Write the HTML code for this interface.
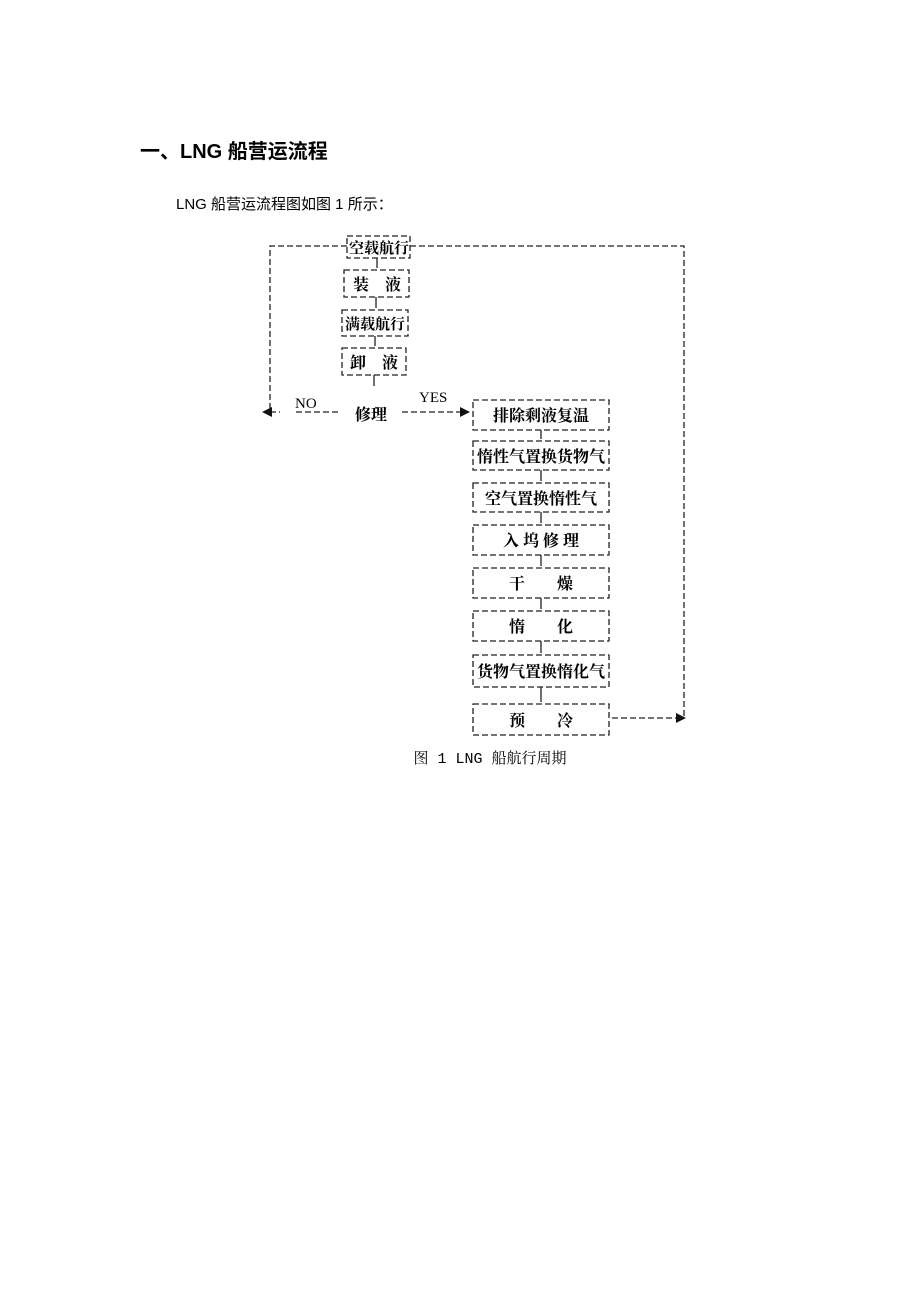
<!DOCTYPE html>
<html><head><meta charset="utf-8"><style>
body{margin:0;width:920px;height:1302px;background:#fff;position:relative;font-family:"Liberation Sans","Noto Sans CJK SC",sans-serif;color:#000}
.t{position:absolute;white-space:nowrap}
</style></head><body>
<div class="t" style="left:140px;top:135px;font-size:20px;font-weight:bold">一、LNG 船营运流程</div>
<div class="t" style="left:176px;top:193px;font-size:15px">LNG 船营运流程图如图 1 所示：</div>
<svg width="920" height="1302" style="position:absolute;left:0;top:0" font-family="'Liberation Serif','Noto Serif CJK SC',serif">
<g fill="none" stroke="#222" stroke-width="1.3" stroke-dasharray="6,3">
<rect x="347" y="236" width="63" height="22"/>
<rect x="344" y="270" width="65" height="27"/>
<rect x="342" y="310" width="66" height="26"/>
<rect x="342" y="348" width="64" height="27"/>
<rect x="473" y="400" width="136" height="30"/>
<rect x="473" y="441" width="136" height="29"/>
<rect x="473" y="483" width="136" height="29"/>
<rect x="473" y="525" width="136" height="30"/>
<rect x="473" y="568" width="136" height="30"/>
<rect x="473" y="611" width="136" height="30"/>
<rect x="473" y="655" width="136" height="32"/>
<rect x="473" y="704" width="136" height="31"/>
<path d="M347 246 H270 V412 H280"/>
<path d="M338 412 H294"/>
<path d="M410 246 H684 V718"/>
<path d="M402 412 H460"/>
<path d="M612 718 H676"/>
</g>
<g fill="none" stroke="#222" stroke-width="1.3">
<path d="M377 258V268M376 297V308M375 336V346M374 375V386M541 430V439M541 470V481M541 512V523M541 555V566M541 598V609M541 641V653M541 687V702"/>
</g>
<g fill="#111">
<path d="M262 412 L272 407 L272 417Z"/>
<path d="M470 412 L460 407 L460 417Z"/>
<path d="M686 718 L676 713 L676 723Z"/>
</g>
<g font-size="16" font-weight="bold" text-anchor="middle">
<text x="379" y="253" font-size="15">空载航行</text>
<text x="377" y="290">装　液</text>
<text x="375" y="329" font-size="15">满载航行</text>
<text x="374" y="368">卸　液</text>
<text x="371" y="420">修理</text>
<text x="541" y="421">排除剩液复温</text>
<text x="541" y="462">惰性气置换货物气</text>
<text x="541" y="504">空气置换惰性气</text>
<text x="541" y="546">入 坞 修 理</text>
<text x="541" y="589">干　　燥</text>
<text x="541" y="632">惰　　化</text>
<text x="541" y="677">货物气置换惰化气</text>
<text x="541" y="726">预　　冷</text>
</g>
<g font-size="15">
<text x="295" y="408">NO</text>
<text x="419" y="402">YES</text>
<text x="490" y="763" text-anchor="middle" font-family="'Liberation Mono','Noto Serif CJK SC',serif">图 1 LNG 船航行周期</text>
</g>
</svg>
</body></html>
